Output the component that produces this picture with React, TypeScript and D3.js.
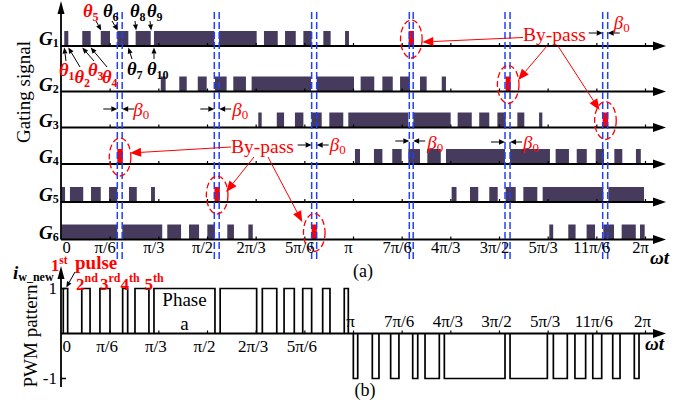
import React from "react";
import * as d3 from "d3";

// ωt tick positions (degrees) and their labels
const tickAngles = [0, 30, 60, 90, 120, 150, 180, 210, 240, 270, 300, 330, 360];
const tickLabels = ["0", "π/6", "π/3", "π/2", "2π/3", "5π/6", "π", "7π/6", "4π/3", "3π/2", "5π/3", "11π/6", "2π"];

// gating pulses of each switch, [on, off] in degrees of ωt
const gate1 = [[1.7, 4.2], [12.8, 18.0], [24.2, 29.9], [34.4, 41.2], [45.7, 55.0], [57.0, 94.2], [97.1, 120.3], [124.8, 133.3], [137.8, 144.4], [149.1, 154.2], [161.4, 165.9], [174.8, 177.2]];
const gate2 = [[61.2, 64.2], [72.6, 77.2], [84.0, 89.5], [94.6, 101.8], [105.9, 113.7], [117.2, 153.8], [157.3, 180.3], [184.4, 192.8], [197.8, 204.2], [208.7, 214.8], [221.0, 225.1], [234.4, 237.0]];
const gate3 = [[121.3, 123.4], [132.7, 137.2], [143.9, 149.1], [154.2, 160.4], [165.1, 173.7], [176.8, 213.8], [216.9, 239.9], [244.2, 252.9], [257.5, 263.7], [268.7, 273.8], [281.0, 285.3], [294.4, 296.4]];
const gate4 = [[180.9, 184.0], [192.6, 197.8], [203.9, 209.7], [213.8, 221.0], [225.5, 233.8], [237.0, 273.4], [276.5, 301.1], [304.6, 312.8], [317.6, 323.8], [329.3, 334.4], [340.8, 345.7], [354.1, 357.1]];
const gate5 = [[0, 2.2], [5.2, 13.4], [18.2, 24.2], [29.3, 34.4], [41.6, 46.4], [55.2, 57.6], [240.5, 243.5], [251.8, 256.9], [263.7, 268.9], [273.8, 280.0], [284.7, 293.3], [296.6, 334.0], [337.1, 359.1]];
const gate6 = [[0, 34.4], [37.5, 62.1], [65.2, 73.7], [78.6, 84.8], [89.9, 94.6], [102.2, 106.3], [115.2, 117.9], [300.7, 303.1], [312.4, 316.9], [323.7, 328.9], [334.0, 340.6], [345.3, 354.0], [356.6, 359.5]];
const gates = [gate1, gate2, gate3, gate4, gate5, gate6];
const gateNames = ["1", "2", "3", "4", "5", "6"];

// by-pass pulse of each switch (degrees)
const bypassPulses = [[214.0, 217.3], [273.8, 276.9], [333.6, 337.0], [34.4, 37.8], [94.3, 97.6], [154.2, 157.4]];
// β0 windows marked by the dashed lines (degrees)
const bypassWindows = [[34.4, 37.4], [94.2, 97.2], [154.2, 157.3], [214.4, 216.8], [273.4, 276.5], [333.6, 336.7]];

// phase-a PWM current pattern (degrees)
const pwmPositive = [[1.1, 3.8], [12.5, 17.6], [23.7, 29.9], [37.7, 40.8], [45.3, 53.9], [57.0, 94.6], [97.8, 120.3], [123.8, 132.7], [137.2, 143.5], [148.7, 154.2], [161.0, 165.5], [174.3, 176.8]];
const pwmNegative = [[179.9, 182.6], [191.6, 195.7], [202.9, 208.0], [216.5, 219.6], [224.1, 232.9], [236.0, 273.4], [276.5, 299.5], [303.2, 311.8], [316.5, 323.1], [327.5, 333.0], [339.8, 344.3], [353.1, 356.0]];

const FONT = "'Liberation Serif', 'Times New Roman', Times, serif";
const PURPLE = "#463a5d";
const RED = "#ff0000";
const BLUE = "#2040ff";

function Arrow({ x1, y1, x2, y2, color = "#000", width = 1, head = 7, half = 3 }: any) {
  const a = Math.atan2(y2 - y1, x2 - x1);
  const bx = x2 - head * Math.cos(a);
  const by = y2 - head * Math.sin(a);
  const px = -Math.sin(a) * half;
  const py = Math.cos(a) * half;
  return (
    <g>
      <line x1={x1} y1={y1} x2={bx} y2={by} stroke={color} strokeWidth={width} />
      <polygon points={`${x2},${y2} ${bx + px},${by + py} ${bx - px},${by - py}`} fill={color} />
    </g>
  );
}

function Theta({ x, y, sub, red }: any) {
  return (
    <text x={x} y={y} fontFamily={FONT} fontWeight="bold" fontStyle="italic" fontSize={18.5} fill={red ? RED : "#000"}>
      θ<tspan fontSize={12} fontStyle="normal" dy={4}>{sub}</tspan>
    </text>
  );
}

function Beta({ x, y }: any) {
  return (
    <text x={x} y={y} fontFamily={FONT} fontStyle="italic" fontSize={19} fill={RED}>
      β<tspan fontSize={13} fontStyle="normal" dy={3}>0</tspan>
    </text>
  );
}

export default function App() {
  const x = d3.scaleLinear().domain([0, 360]).range([61.5, 645.5]);
  const rowY = [46, 91.5, 127.5, 164, 202, 239.5];
  const pulseH = 15;
  const axisLeft = 61;
  const axisEnd = 666;

  const yp = d3.scaleLinear().domain([-1, 1]).range([378.5, 288.5]);
  const y0 = yp(0);

  const pulsePath = (p: number[], level: number) =>
    `M${x(p[0])},${y0}V${yp(level)}H${x(p[1])}V${y0}`;

  // β0 markers: window index, arrow height, label offset
  const betaMarks = [
    { w: 0, y: 109, lx: 11, ly: 116 },
    { w: 1, y: 109, lx: 13, ly: 116 },
    { w: 2, y: 145, lx: 13, ly: 151 },
    { w: 3, y: 141, lx: 14, ly: 149 },
    { w: 4, y: 142, lx: 13, ly: 149 },
    { w: 5, y: 33, lx: 6, ly: 29 },
  ];

  // θ markers above and below G1 (edge angle of the pulse they point to)
  const thetaTop = [
    { sub: "5", red: true, tx: 83, edge: 24.2, sx: 96 },
    { sub: "6", red: false, tx: 103, edge: 34.4, sx: 112 },
    { sub: "8", red: false, tx: 130, edge: 45.7, sx: 135 },
    { sub: "9", red: false, tx: 147, edge: 55.0, sx: 150 },
  ];
  const thetaBottom = [
    { sub: "1", red: true, tx: 59, ty: 76, edge: 1.7, sx: 66, sy: 61 },
    { sub: "2", red: true, tx: 74.5, ty: 83, edge: 4.2, sx: 80, sy: 67 },
    { sub: "3", red: true, tx: 88, ty: 76, edge: 12.8, sx: 94, sy: 61 },
    { sub: "4", red: true, tx: 102, ty: 83, edge: 18.0, sx: 107, sy: 67 },
    { sub: "7", red: false, tx: 127, ty: 75, edge: 41.2, sx: 132, sy: 59 },
    { sub: "10", red: false, tx: 147, ty: 75, edge: 57.0, sx: 154, sy: 59 },
  ];

  return (
    <svg width={692} height={406} style={{ position: "absolute", left: 0, top: 0, background: "#fff" }}>
      <rect width={692} height={406} fill="#fff" />

      {/* ===== (a) gating signals ===== */}
      <text transform="translate(30,92) rotate(-90)" textAnchor="middle" fontFamily={FONT} fontSize={19}>
        Gating signal
      </text>

      {gates.map((g, i) => (
        <g key={"row" + i}>
          {g.map((p, j) => (
            <rect key={j} x={x(p[0])} y={rowY[i] - pulseH} width={x(p[1]) - x(p[0])} height={pulseH} fill={PURPLE} />
          ))}
          <rect
            x={x(bypassPulses[i][0])}
            y={rowY[i] - pulseH}
            width={x(bypassPulses[i][1]) - x(bypassPulses[i][0])}
            height={pulseH}
            fill={RED}
          />
          <line x1={axisLeft} x2={axisEnd - 11} y1={rowY[i]} y2={rowY[i]} stroke="#000" strokeWidth={1.8} />
          <polygon points={`${axisEnd},${rowY[i]} ${axisEnd - 13},${rowY[i] - 4.5} ${axisEnd - 13},${rowY[i] + 4.5}`} fill="#000" />
          {tickAngles.slice(1).map((t) => (
            <line key={t} x1={x(t)} x2={x(t)} y1={rowY[i]} y2={rowY[i] - 3} stroke="#000" strokeWidth={1.2} />
          ))}
          <text x={39} y={rowY[i] - 1} fontFamily={FONT} fontWeight="bold" fontStyle="italic" fontSize={19}>
            G<tspan fontSize={12} fontStyle="normal" dy={2}>{gateNames[i]}</tspan>
          </text>
        </g>
      ))}

      {/* vertical axis */}
      <line x1={axisLeft} x2={axisLeft} y1={12} y2={rowY[5]} stroke="#000" strokeWidth={1.8} />
      <polygon points={`${axisLeft},1 ${axisLeft - 3.5},14 ${axisLeft + 3.5},14`} fill="#000" />

      {/* β0 dashed windows */}
      {bypassWindows.map((w, i) => (
        <g key={"win" + i}>
          {w.map((a, k) => (
            <line key={k} x1={x(a)} x2={x(a)} y1={12} y2={259} stroke={BLUE} strokeWidth={1.5} strokeDasharray="7,3" />
          ))}
        </g>
      ))}

      {/* dashed ellipses round the by-pass pulses */}
      {bypassPulses.map((p, i) => (
        <ellipse
          key={"ell" + i}
          cx={(x(p[0]) + x(p[1])) / 2}
          cy={rowY[i] - 7}
          rx={10.8}
          ry={19}
          fill="none"
          stroke={RED}
          strokeWidth={1.3}
          strokeDasharray="6,3"
        />
      ))}

      {/* β0 markers */}
      {betaMarks.map((m, i) => {
        const xl = x(bypassWindows[m.w][0]);
        const xr = x(bypassWindows[m.w][1]);
        return (
          <g key={"beta" + i}>
            <Arrow x1={xl - 14} y1={m.y} x2={xl} y2={m.y} head={6} half={2.8} />
            <Arrow x1={xr + 12} y1={m.y} x2={xr} y2={m.y} head={6} half={2.8} />
            <Beta x={xr + m.lx} y={m.ly} />
          </g>
        );
      })}

      {/* θ annotations */}
      {thetaTop.map((t) => (
        <g key={"tt" + t.sub}>
          <Theta x={t.tx} y={17} sub={t.sub} red={t.red} />
          <Arrow x1={t.sx} y1={21} x2={x(t.edge) + 0.5} y2={rowY[0] - pulseH - 0.5} head={6} half={2.5} />
        </g>
      ))}
      {thetaBottom.map((t) => (
        <g key={"tb" + t.sub}>
          <Theta x={t.tx} y={t.ty} sub={t.sub} red={t.red} />
          <Arrow x1={t.sx} y1={t.sy} x2={x(t.edge)} y2={rowY[0] + 1.5} head={6} half={2.5} />
        </g>
      ))}

      {/* By-pass callouts */}
      <text x={523} y={41} fontFamily={FONT} fontSize={19.5} fill={RED}>By-pass</text>
      <Arrow x1={523} y1={37.5} x2={x((bypassPulses[0][0] + bypassPulses[0][1]) / 2) + 11} y2={42} color={RED} head={11} half={4.5} />
      <Arrow x1={547} y1={46} x2={x((bypassPulses[1][0] + bypassPulses[1][1]) / 2) + 10} y2={80} color={RED} head={11} half={4.5} />
      <Arrow x1={558} y1={46} x2={x((bypassPulses[2][0] + bypassPulses[2][1]) / 2) - 6} y2={110} color={RED} head={11} half={4.5} />

      <text x={231} y={153} fontFamily={FONT} fontSize={19.5} fill={RED}>By-pass</text>
      <Arrow x1={231} y1={147} x2={x((bypassPulses[3][0] + bypassPulses[3][1]) / 2) + 10} y2={153} color={RED} head={11} half={4.5} />
      <Arrow x1={254} y1={157} x2={x((bypassPulses[4][0] + bypassPulses[4][1]) / 2) + 9} y2={192} color={RED} head={11} half={4.5} />
      <Arrow x1={268} y1={157} x2={x((bypassPulses[5][0] + bypassPulses[5][1]) / 2) - 12} y2={222} color={RED} head={11} half={4.5} />

      {/* ωt tick labels */}
      {tickLabels.map((l, i) => (
        <text
          key={"lt" + i}
          x={i === 0 ? x(tickAngles[i]) + 1 : x(tickAngles[i]) - 5}
          y={253}
          textAnchor={i === 0 ? "start" : "middle"}
          fontFamily={FONT}
          fontSize={16.5}
        >
          {l}
        </text>
      ))}
      <text x={650} y={264} fontFamily={FONT} fontWeight="bold" fontStyle="italic" fontSize={19}>ωt</text>
      <text x={363} y={277} textAnchor="middle" fontFamily={FONT} fontSize={18}>(a)</text>

      {/* ===== (b) PWM pattern ===== */}
      <text transform="translate(37,336) rotate(-90)" textAnchor="middle" fontFamily={FONT} fontSize={19}>
        PWM pattern
      </text>
      <text x={13} y={279} fontFamily={FONT} fontWeight="bold" fontStyle="italic" fontSize={19}>
        i<tspan fontSize={12} fontStyle="normal" dy={2}>w_new</tspan>
      </text>

      {pwmPositive.map((p, i) => (
        <path key={"pp" + i} d={pulsePath(p, 1)} fill="none" stroke="#000" strokeWidth={1.7} />
      ))}
      {pwmNegative.map((p, i) => (
        <path key={"pn" + i} d={pulsePath(p, -1)} fill="none" stroke="#000" strokeWidth={1.7} />
      ))}

      <line x1={axisLeft} x2={axisEnd - 11} y1={y0} y2={y0} stroke="#000" strokeWidth={1.8} />
      <polygon points={`${axisEnd},${y0} ${axisEnd - 13},${y0 - 4.5} ${axisEnd - 13},${y0 + 4.5}`} fill="#000" />
      {tickAngles.slice(1).map((t) => (
        <line key={"bt" + t} x1={x(t)} x2={x(t)} y1={y0} y2={y0 - 3} stroke="#000" strokeWidth={1.2} />
      ))}
      <line x1={axisLeft} x2={axisLeft} y1={277} y2={387} stroke="#000" strokeWidth={1.8} />
      <polygon points={`${axisLeft},266 ${axisLeft - 3.5},279 ${axisLeft + 3.5},279`} fill="#000" />
      {[1, -1].map((v) => (
        <g key={"yt" + v}>
          <line x1={axisLeft} x2={axisLeft + 5} y1={yp(v)} y2={yp(v)} stroke="#000" strokeWidth={1.5} />
          <text x={axisLeft - 4} y={yp(v) + 5.5} textAnchor="end" fontFamily={FONT} fontSize={17}>{v === 1 ? "1" : "-1"}</text>
        </g>
      ))}

      {tickLabels.map((l, i) => {
        const below = tickAngles[i] < 180;
        return (
          <text
            key={"lb" + i}
            x={i === 0 ? x(tickAngles[i]) + 1 : x(tickAngles[i]) - 3}
            y={below ? 352 : 327}
            textAnchor={i === 0 ? "start" : "middle"}
            fontFamily={FONT}
            fontSize={17}
          >
            {l}
          </text>
        );
      })}
      <text x={645} y={350} fontFamily={FONT} fontWeight="bold" fontStyle="italic" fontSize={19}>ωt</text>
      <text x={365} y={396} textAnchor="middle" fontFamily={FONT} fontSize={18}>(b)</text>

      {/* pulse numbering */}
      <g fontFamily={FONT} fontWeight="bold" fill={RED}>
        <text x={51} y={270.5} fontSize={16.5}>1<tspan fontSize={11.5} dy={-7}>st</tspan></text>
        <text x={75} y={269} fontSize={19}>pulse</text>
        <text x={76} y={290} fontSize={17}>2<tspan fontSize={12} dy={-8}>nd</tspan></text>
        <text x={100} y={290} fontSize={17}>3<tspan fontSize={12} dy={-8}>rd</tspan></text>
        <text x={120.5} y={290} fontSize={17}>4<tspan fontSize={12} dy={-8}>th</tspan></text>
        <text x={144.5} y={290} fontSize={17}>5<tspan fontSize={12} dy={-8}>th</tspan></text>
      </g>
      <Arrow x1={75} y1={272} x2={x(pwmPositive[0][0]) + 3} y2={yp(1) - 1} head={6} half={2.5} />

      <text x={184.5} y={306} textAnchor="middle" fontFamily={FONT} fontSize={19}>Phase</text>
      <text x={184.5} y={330} textAnchor="middle" fontFamily={FONT} fontSize={19}>a</text>
    </svg>
  );
}
